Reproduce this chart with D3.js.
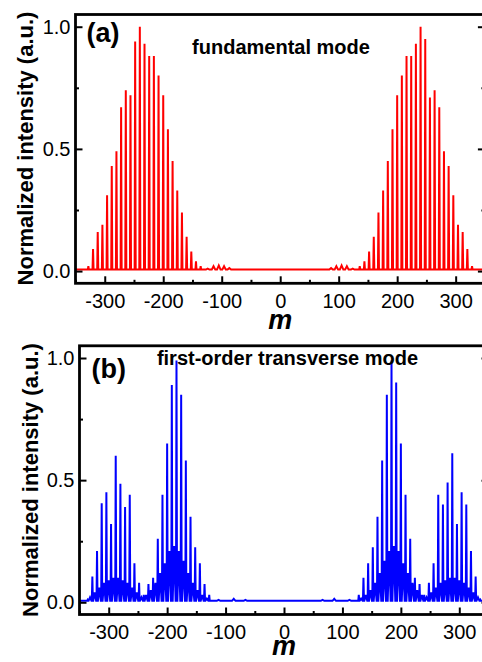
<!DOCTYPE html>
<html>
<head>
<meta charset="utf-8">
<script src="https://cdn.jsdelivr.net/npm/d3@7"></script>
<style>
body { margin: 0; background: #fff; overflow: hidden; }
text { font-family: "Liberation Sans", Arial, sans-serif; }
</style>
</head>
<body>
<svg id="chart" width="482" height="662"></svg>
<script>
// ------------------ DATA ------------------
// (a) fundamental mode: main comb peaks (m, intensity)
var mA = [-328, -320, -312, -304, -296, -288, -280, -272, -264, -256, -248, -240, -232, -224, -216, -208, -200, -192, -184, -176, -168, -160, -152, -144, -136,
          136, 144, 152, 160, 168, 176, 184, 192, 200, 208, 216, 224, 232, 240, 248, 256, 264, 272, 280, 288, 296, 304, 312, 320, 328];
var hA = [0.02, 0.09, 0.16, 0.19, 0.31, 0.43, 0.49, 0.67, 0.74, 0.72, 0.94, 1.0, 0.93, 0.88, 0.88, 0.80, 0.72, 0.58, 0.45, 0.33, 0.24, 0.14, 0.08, 0.04, 0.02,
          0.02, 0.04, 0.08, 0.14, 0.24, 0.33, 0.45, 0.58, 0.72, 0.80, 0.88, 0.88, 0.93, 1.0, 0.95, 0.71, 0.74, 0.67, 0.49, 0.43, 0.31, 0.19, 0.16, 0.09, 0.02];
// (a) small side lobes near |m| ~ 100
var bumpMA = [-124, -114, -105, -96, -87, 87, 96, 105, 114, 124];
var bumpHA = [0.010, 0.020, 0.023, 0.020, 0.012, 0.012, 0.020, 0.023, 0.020, 0.010];

// (b) first-order transverse mode: main peaks
var mB = [-336, -328, -320, -312, -304, -296, -288, -280, -272, -264, -256, -248, -240, -232, -224, -216, -208, -200, -192, -184, -176, -168, -160, -152, -144, -136, -128,
          128, 136, 144, 152, 160, 168, 176, 184, 192, 200, 208, 216, 224, 232, 240, 248, 256, 264, 272, 280, 288, 296, 304, 312, 320, 328, 336];
var hB = [0.01, 0.105, 0.21, 0.405, 0.45, 0.32, 0.60, 0.485, 0.39, 0.44, 0.16, 0.08, 0.03, 0.075, 0.10, 0.26, 0.44, 0.65, 0.89, 0.99, 0.85, 0.58, 0.35, 0.225, 0.16, 0.075, 0.03,
          0.03, 0.10, 0.16, 0.225, 0.35, 0.58, 0.85, 0.99, 0.90, 0.65, 0.44, 0.26, 0.10, 0.075, 0.03, 0.08, 0.16, 0.44, 0.40, 0.49, 0.61, 0.32, 0.45, 0.40, 0.21, 0.105, 0.01];
// (b) secondary oscillation between the main peaks
var subMB = [-332, -324, -316, -308, -300, -292, -284, -276, -268, -260, -252, -244, -236, -228, -220, -212, -204, -196, -188, -180, -172, -164, -156, -148, -140, -132,
             132, 140, 148, 156, 164, 172, 180, 188, 196, 204, 212, 220, 228, 236, 244, 252, 260, 268, 276, 284, 292, 300, 308, 316, 324, 332];
var subHB = [0.02, 0.04, 0.06, 0.08, 0.09, 0.10, 0.10, 0.09, 0.08, 0.06, 0.04, 0.02, 0.03, 0.05, 0.08, 0.12, 0.16, 0.21, 0.23, 0.21, 0.17, 0.12, 0.08, 0.05, 0.03, 0.015,
             0.015, 0.03, 0.05, 0.08, 0.12, 0.17, 0.21, 0.23, 0.21, 0.16, 0.12, 0.08, 0.05, 0.03, 0.02, 0.04, 0.06, 0.08, 0.09, 0.10, 0.10, 0.09, 0.08, 0.06, 0.04, 0.02];
// (b) tiny lobes in the middle
var bumpMB = [-112, -86, -66, 66, 86, 112];
var bumpHB = [0.010, 0.014, 0.010, 0.010, 0.014, 0.010];

var xTicks = [-300, -200, -100, 0, 100, 200, 300];
var xMinor = [-350, -250, -150, -50, 50, 150, 250, 350];
var yTicks = [0, 0.5, 1.0];
var yMinor = [0.25, 0.75];

// ------------------ FUNCTIONS ------------------
var svg = d3.select("#chart");

// builds the points of the curve: every peak is a narrow triangle on the baseline
function puntsCorba(pics, base) {
    pics.sort(function (a, b) { return a.m - b.m; });
    var punts = [[-350, base]];
    pics.forEach(function (p) {
        punts.push([p.m - p.w, base]);
        punts.push([p.m, p.h]);
        punts.push([p.m + p.w, base]);
    });
    punts.push([350, base]);
    return punts;
}

function dibuixarPanell(cfg) {
    var x = d3.scaleLinear().domain([-350, 350]).range([cfg.left, cfg.right]);
    var y = d3.scaleLinear().domain([-0.05, 1.05]).range([cfg.bottom, cfg.top]);
    var g = svg.append("g");

    g.append("clipPath").attr("id", "clip" + cfg.id)
        .append("rect")
        .attr("x", cfg.left).attr("y", cfg.top)
        .attr("width", cfg.right - cfg.left).attr("height", cfg.bottom - cfg.top);

    var line = d3.line().x(function (d) { return x(d[0]); }).y(function (d) { return y(d[1]); });
    g.append("path")
        .datum(puntsCorba(cfg.pics, cfg.base))
        .attr("clip-path", "url(#clip" + cfg.id + ")")
        .attr("d", line)
        .attr("fill", "none")
        .attr("stroke", cfg.color)
        .attr("stroke-width", cfg.sw)
        .attr("stroke-linejoin", "miter");

    // axes with inward ticks
    var eixos = [
        { a: d3.axisBottom(x).tickValues(xTicks).tickSize(-7).tickPadding(10.5).tickFormat(function (d) { return String(d); }), t: "translate(0," + cfg.bottom + ")" },
        { a: d3.axisBottom(x).tickValues(xMinor).tickSize(-3.5).tickFormat(""), t: "translate(0," + cfg.bottom + ")" },
        { a: d3.axisLeft(y).tickValues(yTicks).tickSize(-7).tickPadding(5).tickFormat(function (d) { return d.toFixed(1); }), t: "translate(" + cfg.left + ",0)" },
        { a: d3.axisLeft(y).tickValues(yMinor).tickSize(-3.5).tickFormat(""), t: "translate(" + cfg.left + ",0)" },
        { a: d3.axisRight(y).tickValues(yTicks).tickSize(-7).tickFormat(""), t: "translate(" + cfg.right + ",0)" },
        { a: d3.axisRight(y).tickValues(yMinor).tickSize(-3.5).tickFormat(""), t: "translate(" + cfg.right + ",0)" }
    ];
    eixos.forEach(function (e) {
        var ax = g.append("g").attr("transform", e.t).call(e.a);
        ax.select(".domain").remove();
        ax.selectAll("line").attr("stroke", "#000").attr("stroke-width", 2);
        ax.selectAll("text")
            .attr("fill", "#000")
            .style("font-family", '"Liberation Sans", Arial, sans-serif')
            .style("font-size", "20px");
    });

    // frame
    g.append("rect")
        .attr("x", cfg.left).attr("y", cfg.top)
        .attr("width", cfg.right - cfg.left).attr("height", cfg.bottom - cfg.top)
        .attr("fill", "none").attr("stroke", "#000").attr("stroke-width", 2.8);

    g.append("text")
        .attr("transform", "translate(" + cfg.ylabX + "," + cfg.ylabY + ") rotate(-90)")
        .attr("text-anchor", "middle")
        .style("font-weight", "bold").style("font-size", "22px")
        .text("Normalized intensity (a.u.)");

    g.append("text")
        .attr("x", x(0)).attr("y", cfg.mY)
        .attr("text-anchor", "middle")
        .style("font-weight", "bold").style("font-style", "italic").style("font-size", "27px")
        .text("m");

    g.append("text")
        .attr("x", cfg.left + cfg.letterDx).attr("y", cfg.letterY)
        .style("font-weight", "bold").style("font-size", "27px")
        .text(cfg.label);

    g.append("text")
        .attr("x", cfg.titleX).attr("y", cfg.titleY)
        .attr("text-anchor", "middle")
        .style("font-weight", "bold").style("font-size", "20px")
        .text(cfg.title);
}

function pics(ms, hs, w) {
    return ms.map(function (m, i) { return { m: m, h: hs[i], w: w }; });
}

// ------------------ MAIN ------------------
dibuixarPanell({
    id: "a", label: "(a)", title: "fundamental mode", color: "#ff0000", sw: 2, base: 0.006,
    left: 75.5, right: 484.9, top: 14.5, bottom: 283.3,
    ylabX: 33, ylabY: 148.5, mY: 329, letterDx: 11, letterY: 42, titleX: 281, titleY: 54,
    pics: pics(mA, hA, 0.9).concat(pics(bumpMA, bumpHA, 3))
});

dibuixarPanell({
    id: "b", label: "(b)", title: "first-order transverse mode", color: "#0000ff", sw: 2, base: 0.006,
    left: 79.5, right: 488.5, top: 345.8, bottom: 614.5,
    ylabX: 37.5, ylabY: 480, mY: 655, letterDx: 12, letterY: 378, titleX: 287.5, titleY: 365,
    pics: pics(mB, hB, 0.9).concat(pics(subMB, subHB, 2.5)).concat(pics(bumpMB, bumpHB, 3))
});
</script>
</body>
</html>
